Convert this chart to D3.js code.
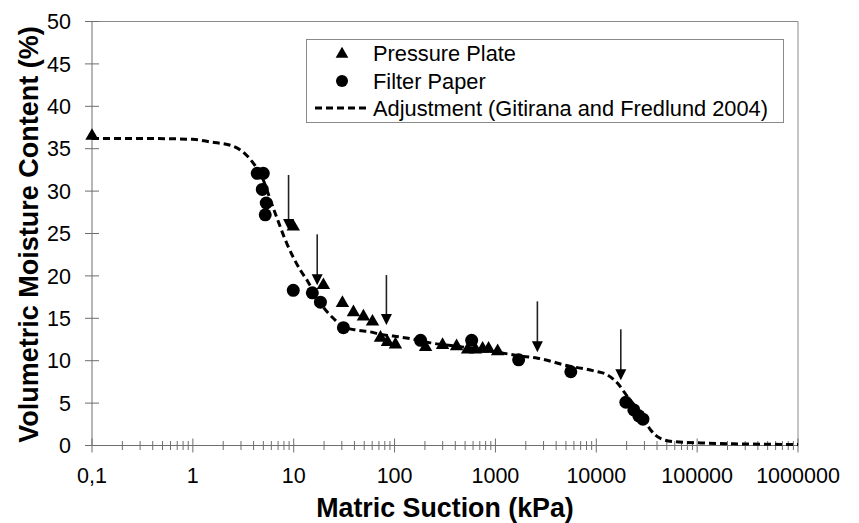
<!DOCTYPE html>
<html>
<head>
<meta charset="utf-8">
<script src="https://cdn.jsdelivr.net/npm/d3@7"></script>
<style>
  html, body { margin: 0; padding: 0; background: #fff; }
  svg { display: block; }
  text { font-family: "Liberation Sans", Arial, sans-serif; fill: #000; }
</style>
</head>
<body>
<svg id="chart" width="859" height="523"></svg>
<script>
// ---- Data ----
// Pressure plate: [matric suction kPa, volumetric moisture %]
const pressurePlate = [
  [0.1, 36.5], [9.9, 25.8], [19.7, 18.9], [30.4, 16.8], [39.1, 15.7],
  [49.1, 15.2], [60.4, 14.6], [72.5, 12.7], [85, 12.2], [102, 11.9],
  [203, 11.6], [299, 11.85], [412, 11.7], [530, 11.3], [635, 11.3],
  [746, 11.4], [855, 11.4], [1052, 11.1]
];
// Filter paper
const filterPaper = [
  [4.35, 32.1], [4.99, 32.1], [4.88, 30.2], [5.34, 28.6], [5.22, 27.2],
  [9.9, 18.3], [15.3, 18.0], [18.4, 16.9], [31.1, 13.9], [181, 12.4],
  [581, 12.4], [1698, 10.1], [5590, 8.7], [19630, 5.1], [23560, 4.2],
  [26400, 3.5], [29000, 3.1]
];
// Adjustment curve (Gitirana and Fredlund 2004)
const adjustment = [
  [0.1, 36.2], [0.377, 36.2], [1.0, 36.1], [1.49, 35.8], [2.51, 35.3],
  [3.30, 34.4], [3.97, 33.3], [4.66, 32.1], [6.27, 28.0], [8.63, 23.7],
  [11.6, 20.7], [13.7, 19.4], [15.7, 18.2], [19.7, 16.3], [24.7, 15.0],
  [31.1, 14.0], [42.8, 13.6], [57.7, 13.4], [72.5, 13.1], [97.5, 12.9],
  [144, 12.6], [228, 12.1], [483, 11.6], [1052, 11.0], [1905, 10.5],
  [2624, 10.3], [5210, 9.4], [9440, 8.8], [13000, 8.3], [16360, 7.3],
  [20560, 5.7], [27650, 3.8], [34760, 1.8], [43750, 0.8], [58880, 0.45],
  [109000, 0.3], [232000, 0.2], [1000000, 0.12]
];
// Arrows: [suction kPa, top value, tip value]
const arrows = [
  [8.89, 31.9, 25.4], [17.1, 24.9, 18.9], [83, 20.1, 14.2],
  [2606, 17.0, 11.0], [17500, 13.7, 7.7]
];
const xTickLabels = ["0,1", "1", "10", "100", "1000", "10000", "100000", "1000000"];
const xMajorTicks = [0.1, 1, 10, 100, 1000, 10000, 100000, 1000000];
const yTicks = [0, 5, 10, 15, 20, 25, 30, 35, 40, 45, 50];
const legendItems = ["Pressure Plate", "Filter Paper", "Adjustment (Gitirana and Fredlund 2004)"];

// ---- Layout ----
const L = 92, R = 798, T = 21.5, B = 445.5;
const svg = d3.select("#chart");
const x = d3.scaleLog().domain([0.1, 1000000]).range([L, R]);
const y = d3.scaleLinear().domain([0, 50]).range([B, T]);
const axisColor = "#6e6e6e";

// frame (top and right)
svg.append("path")
  .attr("d", `M${L},${T}H${R}V${B}`)
  .attr("fill", "none").attr("stroke", "#8a8a8a").attr("stroke-width", 1);

// y axis
const gy = svg.append("g");
gy.append("line").attr("x1", L).attr("x2", L).attr("y1", T).attr("y2", B)
  .attr("stroke", axisColor);
gy.selectAll("line.t").data(yTicks).join("line").attr("class", "t")
  .attr("x1", L - 7).attr("x2", L + 7)
  .attr("y1", d => y(d)).attr("y2", d => y(d))
  .attr("stroke", axisColor);
gy.selectAll("text").data(yTicks).join("text")
  .attr("x", 71).attr("y", d => y(d)).attr("dy", "0.36em")
  .attr("text-anchor", "end").attr("font-size", 21.5)
  .text(d => d);

// x axis
const gx = svg.append("g");
gx.append("line").attr("x1", L).attr("x2", R).attr("y1", B).attr("y2", B)
  .attr("stroke", axisColor);
const minor = x.ticks().filter(v => !xMajorTicks.some(m => Math.abs(m - v) / m < 1e-9));
gx.selectAll("line.mn").data(minor).join("line").attr("class", "mn")
  .attr("x1", d => x(d)).attr("x2", d => x(d))
  .attr("y1", B - 4.5).attr("y2", B + 4.5)
  .attr("stroke", axisColor);
gx.selectAll("line.mj").data(xMajorTicks).join("line").attr("class", "mj")
  .attr("x1", d => x(d)).attr("x2", d => x(d))
  .attr("y1", B - 7).attr("y2", B + 7)
  .attr("stroke", axisColor);
gx.selectAll("text").data(xMajorTicks).join("text")
  .attr("x", d => x(d)).attr("y", 483)
  .attr("text-anchor", "middle").attr("font-size", 21.5)
  .text((d, i) => xTickLabels[i]);

// axis titles
svg.append("text").attr("x", (L + R) / 2).attr("y", 517)
  .attr("text-anchor", "middle").attr("font-size", 26.8).attr("font-weight", "bold")
  .text("Matric Suction (kPa)");
svg.append("text")
  .attr("transform", `translate(38,${(T + B) / 2 + 1}) rotate(-90)`)
  .attr("text-anchor", "middle").attr("font-size", 27).attr("font-weight", "bold")
  .text("Volumetric Moisture Content (%)");

// adjustment curve
const line = d3.line().x(d => x(d[0])).y(d => y(d[1])).curve(d3.curveMonotoneX);
svg.append("path").datum(adjustment)
  .attr("d", line).attr("fill", "none")
  .attr("stroke", "#000").attr("stroke-width", 3)
  .attr("stroke-dasharray", "7,4");

// symbols
const tri = d3.symbol().type(d3.symbolTriangle).size(78);
svg.append("g").selectAll("path").data(pressurePlate).join("path")
  .attr("transform", d => `translate(${x(d[0])},${y(d[1])})`)
  .attr("d", tri).attr("fill", "#000");
svg.append("g").selectAll("circle").data(filterPaper).join("circle")
  .attr("cx", d => x(d[0])).attr("cy", d => y(d[1])).attr("r", 6.5)
  .attr("fill", "#000");

// arrows
const ga = svg.append("g");
ga.selectAll("line").data(arrows).join("line")
  .attr("x1", d => x(d[0])).attr("x2", d => x(d[0]))
  .attr("y1", d => y(d[1])).attr("y2", d => y(d[2]) - 8)
  .attr("stroke", "#222").attr("stroke-width", 1.6);
ga.selectAll("path").data(arrows).join("path")
  .attr("d", d => {
    const px = x(d[0]), py = y(d[2]);
    return `M${px - 5.5},${py - 11}L${px + 5.5},${py - 11}L${px},${py}Z`;
  })
  .attr("fill", "#000");

// legend
const lg = svg.append("g");
lg.append("rect").attr("x", 306.5).attr("y", 39.5).attr("width", 477).attr("height", 83)
  .attr("fill", "#fff").attr("stroke", "#8a8a8a");
const rows = [53, 81, 108];
lg.append("path").attr("transform", `translate(342,${rows[0] + 1})`)
  .attr("d", d3.symbol().type(d3.symbolTriangle).size(70)).attr("fill", "#000");
lg.append("circle").attr("cx", 342).attr("cy", rows[1]).attr("r", 6).attr("fill", "#000");
lg.append("line").attr("x1", 315).attr("x2", 370).attr("y1", rows[2]).attr("y2", rows[2])
  .attr("stroke", "#000").attr("stroke-width", 3).attr("stroke-dasharray", "7,4");
lg.selectAll("text").data(legendItems).join("text")
  .attr("x", 373).attr("y", (d, i) => rows[i]).attr("dy", "0.36em")
  .attr("font-size", 21.8).text(d => d);
</script>
</body>
</html>
